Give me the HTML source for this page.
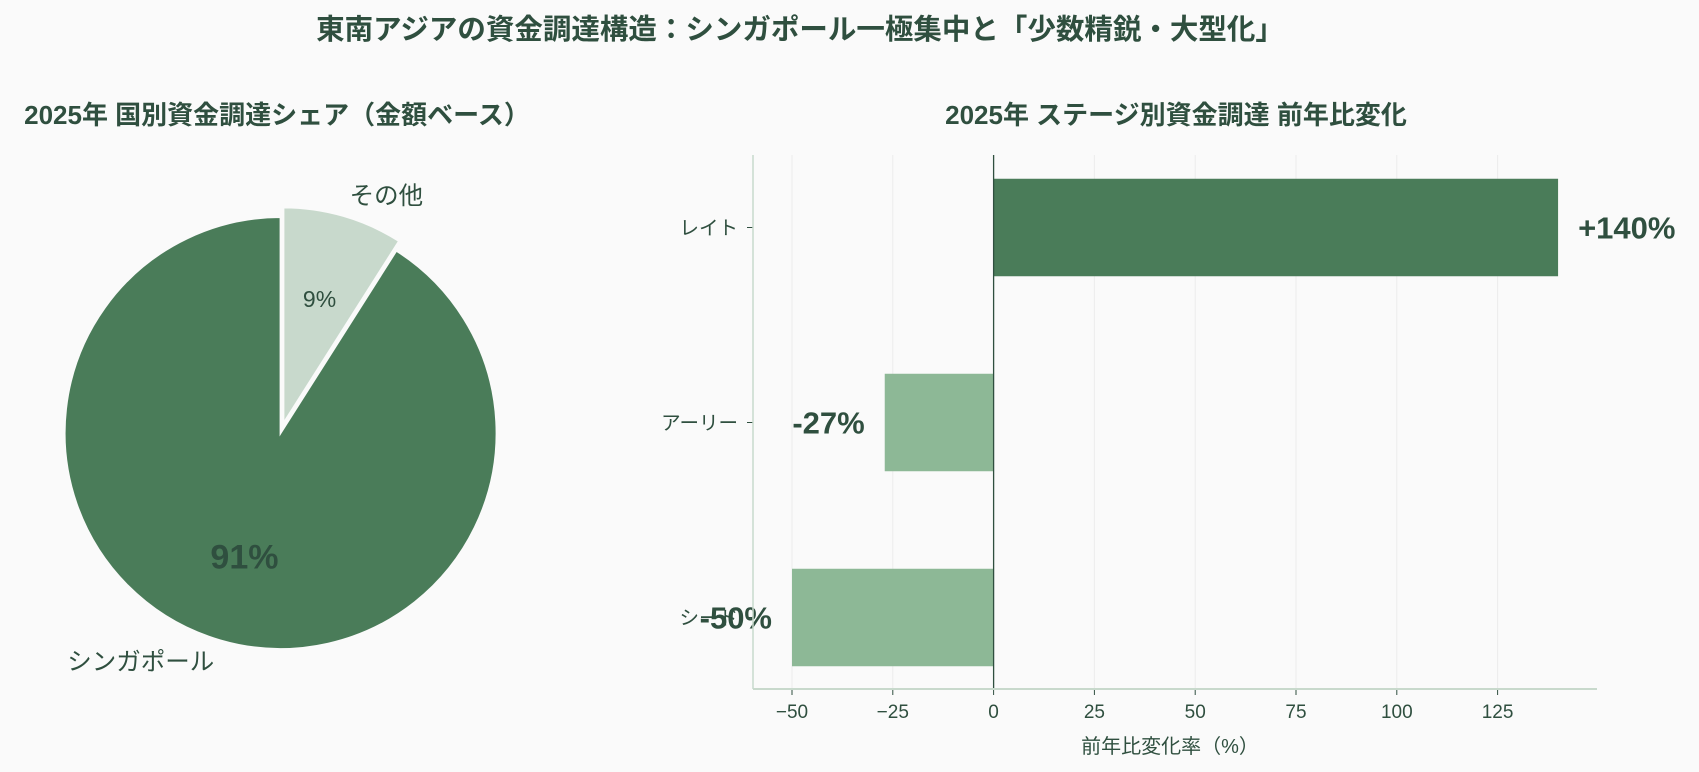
<!DOCTYPE html>
<html><head><meta charset="utf-8"><style>
body{margin:0;background:#fafafa;}
svg{display:block;font-family:"Liberation Sans","Noto Sans CJK JP",sans-serif;}
</style></head><body>
<svg id="chart" width="1699" height="772" viewBox="0 0 1699 772">
<rect width="1699" height="772" fill="#fafafa"/>
<text x="800" y="39" text-anchor="middle" font-size="28.5" font-weight="bold" fill="#2f4f3f">東南アジアの資金調達構造：シンガポール一極集中と「少数精鋭・大型化」</text>
<text x="277" y="124" text-anchor="middle" font-size="26" font-weight="bold" fill="#2f4f3f">2025年 国別資金調達シェア（金額ベース）</text>
<text x="1176" y="124" text-anchor="middle" font-size="26" font-weight="bold" fill="#2f4f3f">2025年 ステージ別資金調達 前年比変化</text>
<g id="pie"></g>
<g id="bars"></g>
</svg>
<script>
const NS="http://www.w3.org/2000/svg";
const pieLabels=["シンガポール","その他"];
const pieValues=[91,9];
const stages=["レイト","アーリー","シード"];
const changes=[140,-27,-50];
const valueLabels=["+140%","-27%","-50%"];
const xTicks=[-50,-25,0,25,50,75,100,125];

function mk(tag,attrs,parent){const e=document.createElementNS(NS,tag);for(const k in attrs)e.setAttribute(k,attrs[k]);parent.appendChild(e);return e;}

// Pie
const pie=document.getElementById('pie');
const cx=280.6,cy=433,r=216;
const pieColors=["#4a7c59","#c8d9cc"];
const total=pieValues.reduce((a,b)=>a+b,0);
let start=0;
const order=[1,0];
order.forEach(i=>{
  const sweep=pieValues[i]/total*360;
  const mid=(start+sweep/2)*Math.PI/180;
  const off=i===1?10:0;
  const ox=cx+off*Math.sin(mid),oy=cy-off*Math.cos(mid);
  const a0=start*Math.PI/180,a1=(start+sweep)*Math.PI/180;
  const x0=ox+r*Math.sin(a0),y0=oy-r*Math.cos(a0),x1=ox+r*Math.sin(a1),y1=oy-r*Math.cos(a1);
  const p=mk('path',{d:`M${ox},${oy} L${x0},${y0} A${r},${r} 0 ${sweep>180?1:0} 1 ${x1},${y1} Z`,fill:pieColors[i],stroke:"#fafafa","stroke-width":2},pie);
  
  
  const pr=0.6, lr=1.1;
  const t=mk('text',{x:ox+r*pr*Math.sin(mid),y:oy-r*pr*Math.cos(mid)+(i===0?11:8),"text-anchor":"middle","font-size":i===0?34:23,"font-weight":i===0?"bold":"normal",fill:"#2f4f3f"},pie);
  t.textContent=pieValues[i]+"%";
  
  
  const l=mk('text',{x:ox+r*lr*Math.sin(mid),y:oy-r*lr*Math.cos(mid)+9,"text-anchor":Math.sin(mid)>=0?"start":"end","font-size":24.5,fill:"#2f4f3f"},pie);
  l.textContent=pieLabels[i];
  
  
  start+=sweep;
});

// Bars
const g=document.getElementById('bars');
const L=753,R=1597,T=155,B=689;
const x0v=993.6,pxPer=100.8/25;
const xs=v=>x0v+v*pxPer;
const ys=i=>227.5+i*195;
const barH=97.5;
xTicks.forEach(v=>{
  const gl=mk('line',{x1:xs(v),x2:xs(v),y1:T,y2:B,stroke:"#ececec","stroke-width":1},g);
  
  
  mk('line',{x1:xs(v),x2:xs(v),y1:B,y2:B+6,stroke:"#2f4f3f","stroke-width":1},g);
  const t=mk('text',{x:xs(v),y:B+29,"text-anchor":"middle","font-size":19,fill:"#2f4f3f"},g);
  t.textContent=v<0?"\u2212"+(-v):String(v);
  
  
});
stages.forEach((s,i)=>{
  const v=changes[i];
  const y=ys(i);
  const rect=mk('rect',{x:Math.min(xs(0),xs(v)),y:y-barH/2,width:Math.abs(xs(v)-xs(0)),height:barH,fill:v>0?"#4a7c59":"#8db896"},g);
  
  
  mk('line',{x1:L-6,x2:L,y1:y,y2:y,stroke:"#2f4f3f","stroke-width":1},g);
  const cl=mk('text',{x:L-15,y:y+7,"text-anchor":"end","font-size":19.5,fill:"#2f4f3f"},g);
  cl.textContent=s;
  
  
  const vx=v>0?xs(v)+20:xs(v)-20;
  const vl=mk('text',{x:vx,y:y+11,"text-anchor":v>0?"start":"end","font-size":31,"font-weight":"bold",fill:"#2f4f3f"},g);
  vl.textContent=valueLabels[i];
  
  
});
const zl=mk('line',{x1:xs(0),x2:xs(0),y1:T,y2:B,stroke:"#2f4f3f","stroke-width":1.3},g);


const la=mk('line',{x1:L,x2:L,y1:T,y2:B,stroke:"#c8d9cc","stroke-width":1.5},g);


const ba=mk('line',{x1:L,x2:R,y1:B,y2:B,stroke:"#c8d9cc","stroke-width":2},g);


const xt=mk('text',{x:1170,y:753,"text-anchor":"middle","font-size":20,fill:"#2f4f3f"},g);
xt.textContent="前年比変化率（%）";


</script>
</body></html>
